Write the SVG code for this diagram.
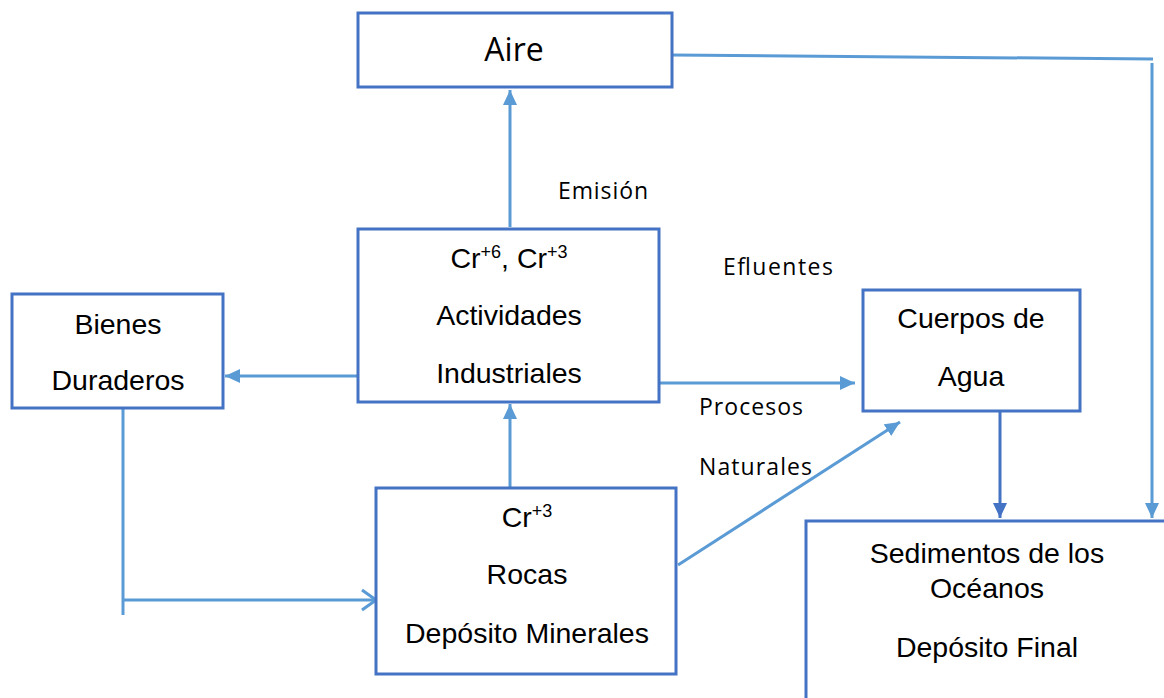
<svg xmlns="http://www.w3.org/2000/svg" width="1164" height="698" viewBox="0 0 1164 698">
<style>
.box{fill:#fff;stroke:#4472C4;stroke-width:3}
.t{font-family:"Liberation Sans",Arial,sans-serif;font-size:28.5px;fill:#000;text-anchor:middle}
.lbl{font-family:"Open Sans","Liberation Sans",sans-serif;font-size:23px;fill:#000}
.c{fill:none;stroke:#5B9BD5;stroke-width:3}
.cd{fill:none;stroke:#4472C4;stroke-width:3}
</style>
<defs>
<marker id="ah" markerUnits="userSpaceOnUse" markerWidth="16" markerHeight="14" refX="15" refY="7" orient="auto">
<path d="M0,0 L15,7 L0,14 Z" fill="#5B9BD5"/>
</marker>
<marker id="ahd" markerUnits="userSpaceOnUse" markerWidth="16" markerHeight="14" refX="15" refY="7" orient="auto">
<path d="M0,0 L15,7 L0,14 Z" fill="#4472C4"/>
</marker>
<marker id="aho" markerUnits="userSpaceOnUse" markerWidth="18" markerHeight="24" refX="16" refY="12" orient="auto">
<path d="M2,2 L16,12 L2,22" fill="none" stroke="#5B9BD5" stroke-width="3"/>
</marker>
</defs>
<g id="connectors">
<path class="c" d="M510 227 L510 90" marker-end="url(#ah)"/>
<path class="c" d="M510 493 L510 404" marker-end="url(#ah)"/>
<path class="c" d="M358 376 L225 376" marker-end="url(#ah)"/>
<path class="c" d="M659 383 L855 383" marker-end="url(#ah)"/>
<path class="c" d="M678 565 L900 422" marker-end="url(#ah)"/>
<path class="c" d="M123 405 L123 615"/>
<path class="c" d="M123 600 L376 600" marker-end="url(#aho)"/>
<path class="c" d="M672 55 L1153 59"/>
<path class="c" d="M1152 63 L1152 518" marker-end="url(#ah)"/>
<path class="cd" d="M1000 412 L1000 518" marker-end="url(#ahd)"/>
</g>
<g id="aire">
<rect class="box" x="358" y="13" width="314" height="74"/>
<text x="514" y="61" font-family="Open Sans, Liberation Sans, sans-serif" font-size="32" text-anchor="middle" fill="#000">Aire</text>
</g>
<g id="industriales">
<rect class="box" x="358" y="229" width="301" height="173"/>
<text class="t" x="509" y="268">Cr<tspan font-size="18" dy="-10">+6</tspan><tspan dy="10">, Cr</tspan><tspan font-size="18" dy="-10">+3</tspan></text>
<text class="t" x="509" y="325">Actividades</text>
<text class="t" x="509" y="383">Industriales</text>
</g>
<g id="bienes">
<rect class="box" x="12" y="294" width="211" height="114"/>
<text class="t" x="118" y="334">Bienes</text>
<text class="t" x="118" y="390">Duraderos</text>
</g>
<g id="rocas">
<rect class="box" x="376" y="488" width="300" height="186"/>
<text class="t" x="527" y="527">Cr<tspan font-size="18" dy="-10">+3</tspan></text>
<text class="t" x="527" y="584">Rocas</text>
<text class="t" x="527" y="643">Depósito Minerales</text>
</g>
<g id="cuerpos">
<rect class="box" x="863" y="290" width="217" height="121"/>
<text class="t" x="971" y="328">Cuerpos de</text>
<text class="t" x="971" y="386">Agua</text>
</g>
<g id="sedimentos">
<rect class="box" x="806" y="521" width="400" height="200"/>
<text class="t" x="987" y="563">Sedimentos de los</text>
<text class="t" x="987" y="598">Océanos</text>
<text class="t" x="987" y="657">Depósito Final</text>
</g>
<g id="labels">
<text class="lbl" x="558" y="199" textLength="90">Emisión</text>
<text class="lbl" x="723" y="275" textLength="110">Efluentes</text>
<text class="lbl" x="699" y="415" textLength="104">Procesos</text>
<text class="lbl" x="699" y="475" textLength="113">Naturales</text>
</g>
</svg>
